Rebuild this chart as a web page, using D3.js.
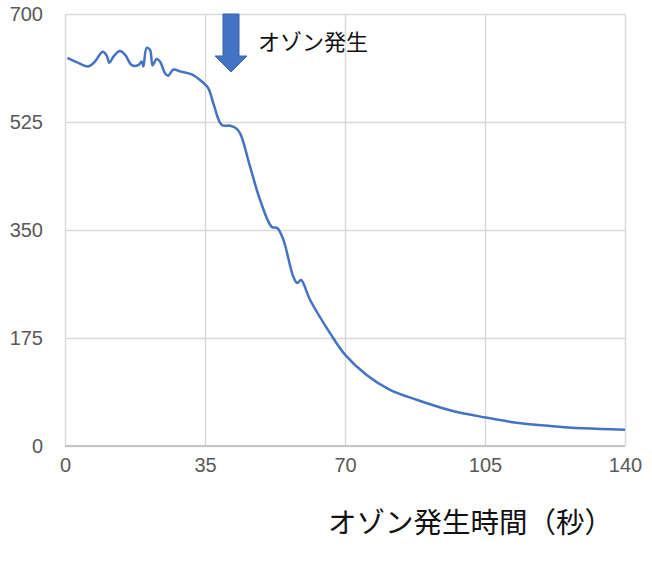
<!DOCTYPE html>
<html>
<head>
<meta charset="utf-8">
<script src="https://cdn.jsdelivr.net/npm/d3@7"></script>
<style>
  body { margin: 0; background: #fff; }
  svg { display: block; }
</style>
</head>
<body>
<svg width="652" height="564"></svg>
<script>
// readings: time (s) and value
var times = [0.6, 2.9, 5.8, 7.5, 9.4, 10.4, 11.1, 12.1, 13.75, 15, 16.7, 18.3, 19.2, 19.6,
  20.4, 21.25, 21.9, 22.9, 23.75, 25, 25.8, 27.1, 28.75, 31.7, 33.75, 35.8, 37.1, 39.2,
  41.25, 42.5, 43.75, 46.25, 48.75, 51.7, 53.1, 54.6, 57.1, 58.1, 59, 61.25, 66.25, 70,
  75.4, 81.25, 87.9, 96.25, 104.8, 112.9, 121.25, 129.6, 140];
var values = [629, 622, 615, 623, 639, 633, 621, 631, 640, 634, 617, 617, 623, 615,
  645, 642, 617, 627, 623, 604, 600, 610, 607, 602, 593, 580, 555, 520,
  519, 516, 507, 453, 399, 355, 353, 334, 274, 264, 269, 237, 183, 148,
  115, 91, 75, 58, 46.5, 37.8, 32.4, 28.6, 26.4];

var xTicks = [0, 35, 70, 105, 140];
var yTicks = [0, 175, 350, 525, 700];

var arrowTime = 41.5; // where the ozone marker sits
var arrowLabel = "オゾン発生";
var xTitle = "オゾン発生時間（秒）";

var svg = d3.select("svg");

let margin = { top: 14, right: 27, bottom: 118, left: 65 };
let plotWidth = 652 - margin.left - margin.right;
let plotHeight = 564 - margin.top - margin.bottom;

let x = d3.scaleLinear().domain([0, 140]).range([0, plotWidth]);
let y = d3.scaleLinear().domain([0, 700]).range([plotHeight, 0]);

let plot = svg.append("g")
  .attr("transform", "translate(" + margin.left + "," + margin.top + ")");

// gridlines
plot.append("g")
  .call(d3.axisBottom(x).tickValues(xTicks).tickFormat("").tickSize(-plotHeight))
  .attr("transform", "translate(0," + plotHeight + ")")
  .call(g => g.select(".domain").remove())
  .selectAll("line").attr("stroke", "#d9d9d9").attr("stroke-width", 1.5);

plot.append("g")
  .call(d3.axisLeft(y).tickValues(yTicks).tickFormat("").tickSize(-plotWidth))
  .call(g => g.select(".domain").remove())
  .selectAll("line").attr("stroke", "#d9d9d9").attr("stroke-width", 1.5);

// bottom axis line
plot.append("line")
  .attr("x1", 0).attr("x2", plotWidth)
  .attr("y1", y(0)).attr("y2", y(0))
  .attr("stroke", "#c6c6c6").attr("stroke-width", 2);

// tick labels
let xAxis = plot.append("g")
  .attr("transform", "translate(0," + plotHeight + ")")
  .call(d3.axisBottom(x).tickValues(xTicks).tickSize(0).tickPadding(12));
xAxis.select(".domain").remove();
xAxis.selectAll("text")
  .style("font-family", "Liberation Sans, Arial, sans-serif")
  .style("font-size", "20px")
  .attr("fill", "#595959");

let yAxis = plot.append("g")
  .call(d3.axisLeft(y).tickValues(yTicks).tickSize(0).tickPadding(22));
yAxis.select(".domain").remove();
yAxis.selectAll("text")
  .style("font-family", "Liberation Sans, Arial, sans-serif")
  .style("font-size", "20px")
  .attr("fill", "#595959");

// the series
let line = d3.line()
  .x(function(d, i) { return x(times[i]); })
  .y(function(d) { return y(d); })
  .curve(d3.curveCatmullRom.alpha(0.5));

plot.append("path")
  .datum(values)
  .attr("d", line)
  .attr("fill", "none")
  .attr("stroke", "#4472c4")
  .attr("stroke-width", 2.5);

// arrow marker
let ax = x(arrowTime);
let arrow = [
  [ax - 8, 0], [ax + 8, 0], [ax + 8, 42], [ax + 16, 42],
  [ax, 58], [ax - 16, 42], [ax - 8, 42]
];
plot.append("polygon")
  .attr("points", arrow.map(p => p.join(",")).join(" "))
  .attr("fill", "#4472c4")
  .attr("stroke", "#3a62a8")
  .attr("stroke-width", 1);

plot.append("text")
  .attr("x", ax + 27)
  .attr("y", 36)
  .style("font-family", "Noto Sans CJK JP, sans-serif")
  .style("font-size", "22px")
  .attr("fill", "#111")
  .text(arrowLabel);

// x-axis title
svg.append("text")
  .attr("x", 328)
  .attr("y", 533)
  .style("font-family", "Noto Sans CJK JP, sans-serif")
  .style("font-size", "28.5px")
  .attr("fill", "#111")
  .text(xTitle);
</script>
</body>
</html>
